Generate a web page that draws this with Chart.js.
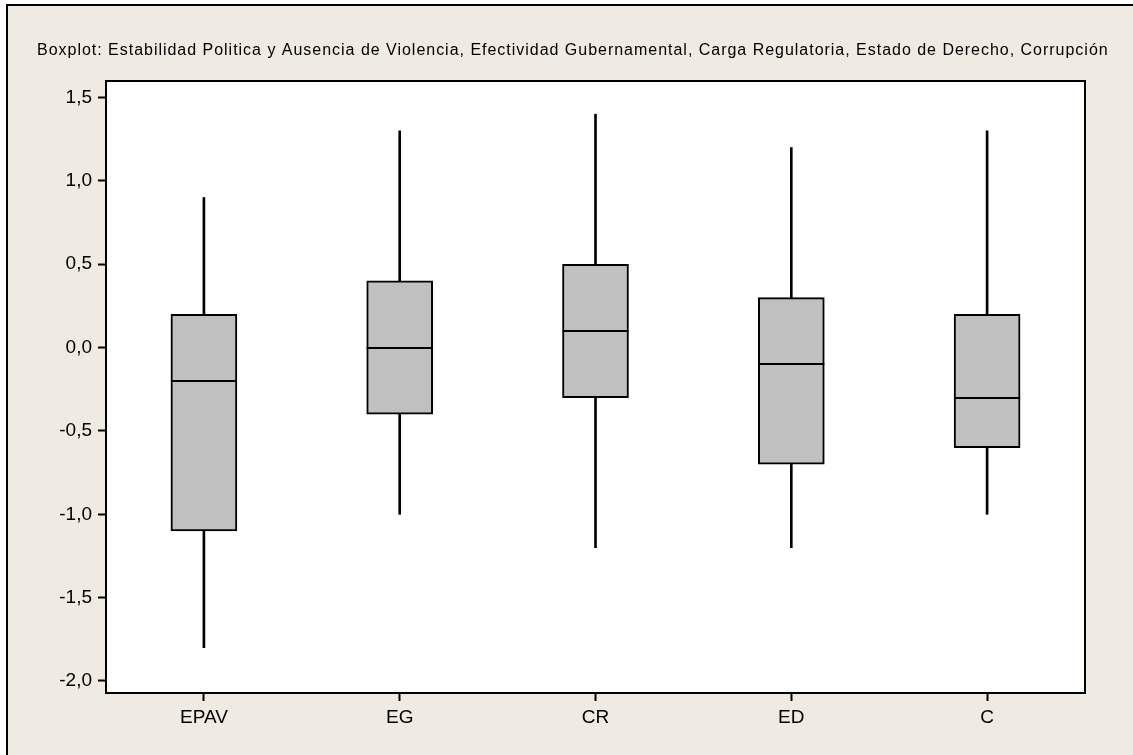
<!DOCTYPE html>
<html>
<head>
<meta charset="utf-8">
<title>Boxplot</title>
<script src="https://cdn.jsdelivr.net/npm/chart.js@4/dist/chart.umd.min.js"></script>
<style>
  html, body { margin: 0; padding: 0; background: #ffffff; overflow: hidden; }
  canvas { display: block; }
</style>
</head>
<body>
<canvas id="chart" width="1133" height="755"></canvas>
<script>
// Indicator groups and their five-number summaries
const categories = ['EPAV', 'EG', 'CR', 'ED', 'C'];
const whiskerHigh = [0.9, 1.3, 1.4, 1.2, 1.3];
const upperQuartile = [0.2, 0.4, 0.5, 0.3, 0.2];
const medians = [-0.2, 0.0, 0.1, -0.1, -0.3];
const lowerQuartile = [-1.1, -0.4, -0.3, -0.7, -0.6];
const whiskerLow = [-1.8, -1.0, -1.2, -1.2, -1.0];
const yTickValues = [-2.0, -1.5, -1.0, -0.5, 0.0, 0.5, 1.0, 1.5];

const chartTitle = 'Boxplot: Estabilidad Politica y Ausencia de Violencia, Efectividad Gubernamental, Carga Regulatoria, Estado de Derecho, Corrupción';

const FONT = '"Liberation Sans", Arial, sans-serif';
const PANEL_BG = '#EFEBE2';
const BOX_FILL = '#C0C0C0';
const BOX_WIDTH = 66;

// Outer panel, title, white plot area, median bars and plot frame
const framePlugin = {
  id: 'frame',
  beforeDraw(chart) {
    const ctx = chart.ctx;
    const { width, height, chartArea } = chart;
    ctx.save();
    ctx.fillStyle = '#ffffff';
    ctx.fillRect(0, 0, width, height);
    ctx.fillStyle = PANEL_BG;
    ctx.fillRect(7, 5, width, height);
    ctx.strokeStyle = '#000';
    ctx.lineWidth = 2;
    ctx.beginPath();
    ctx.moveTo(7, height + 2);
    ctx.lineTo(7, 5);
    ctx.lineTo(width + 2, 5);
    ctx.stroke();

    // title, stretched to span the panel
    ctx.font = '16px ' + FONT;
    ctx.fillStyle = '#000';
    ctx.textBaseline = 'middle';
    ctx.textAlign = 'left';
    const left = 37, right = 1109;
    const natural = ctx.measureText(chartTitle).width;
    const spacing = (right - left - natural) / chartTitle.length;
    if ('letterSpacing' in ctx) ctx.letterSpacing = spacing.toFixed(2) + 'px';
    ctx.fillText(chartTitle, left, 51);
    if ('letterSpacing' in ctx) ctx.letterSpacing = '0px';

    // plot area
    ctx.fillStyle = '#ffffff';
    ctx.fillRect(chartArea.left, chartArea.top, chartArea.right - chartArea.left, chartArea.bottom - chartArea.top);
    ctx.restore();
  },
  afterDatasetsDraw(chart) {
    const ctx = chart.ctx;
    const xs = chart.scales.x, ys = chart.scales.y;
    const a = chart.chartArea;
    ctx.save();
    ctx.strokeStyle = '#000';
    ctx.lineWidth = 2;
    medians.forEach((m, i) => {
      const x = xs.getPixelForValue(i);
      const y = Math.round(ys.getPixelForValue(m));
      ctx.beginPath();
      ctx.moveTo(x - BOX_WIDTH / 2, y);
      ctx.lineTo(x + BOX_WIDTH / 2, y);
      ctx.stroke();
    });
    ctx.strokeRect(a.left, a.top, a.right - a.left, a.bottom - a.top);
    ctx.restore();
  }
};

const tickFont = { family: FONT, size: 19 };

new Chart(document.getElementById('chart'), {
  type: 'bar',
  data: {
    labels: categories,
    datasets: [
      {
        label: 'Caja',
        data: categories.map((_, i) => [lowerQuartile[i], upperQuartile[i]]),
        backgroundColor: BOX_FILL,
        borderColor: '#000',
        borderWidth: 2,
        borderSkipped: false,
        barThickness: BOX_WIDTH,
        grouped: false,
        order: 0
      },
      {
        label: 'Bigote superior',
        data: categories.map((_, i) => [upperQuartile[i], whiskerHigh[i]]),
        backgroundColor: '#000',
        borderWidth: 0,
        barThickness: 2,
        grouped: false,
        order: 1
      },
      {
        label: 'Bigote inferior',
        data: categories.map((_, i) => [whiskerLow[i], lowerQuartile[i]]),
        backgroundColor: '#000',
        borderWidth: 0,
        barThickness: 2,
        grouped: false,
        order: 1
      }
    ]
  },
  options: {
    responsive: false,
    devicePixelRatio: 1,
    animation: false,
    layout: { padding: { top: 81, right: 48, bottom: 0, left: 0 } },
    plugins: {
      legend: { display: false },
      title: { display: false },
      tooltip: { enabled: false }
    },
    scales: {
      x: {
        type: 'category',
        offset: true,
        border: { display: false },
        grid: {
          offset: false,
          drawOnChartArea: false,
          drawTicks: true,
          tickLength: 8,
          tickColor: '#000',
          tickWidth: 2
        },
        ticks: { font: tickFont, color: '#000', padding: 5 },
        afterFit(scale) { scale.height = 62; }
      },
      y: {
        type: 'linear',
        min: -2.072,
        max: 1.599,
        border: { display: false },
        grid: {
          drawOnChartArea: false,
          drawTicks: true,
          tickLength: 8,
          tickColor: '#000',
          tickWidth: 2
        },
        ticks: {
          font: tickFont,
          color: '#000',
          padding: 6,
          callback: (v) => Number(v).toFixed(1).replace('.', ',')
        },
        afterBuildTicks(scale) {
          scale.ticks = yTickValues.map(v => ({ value: v }));
        },
        afterFit(scale) { scale.width = 106; }
      }
    }
  },
  plugins: [framePlugin]
});
</script>
</body>
</html>
